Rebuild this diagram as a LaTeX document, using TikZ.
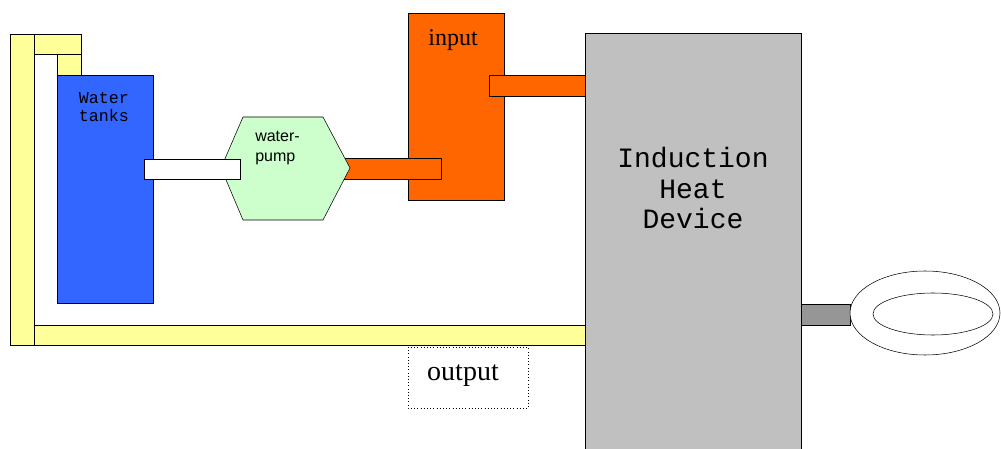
\documentclass[tikz,border=0pt]{standalone}
\usepackage{fontspec}
\setmainfont{Liberation Serif}
\setsansfont{Liberation Sans}
\setmonofont{Liberation Mono}
\usetikzlibrary{positioning}
\definecolor{pipeyellow}{HTML}{FFFF99}
\definecolor{tankblue}{HTML}{3366FF}
\definecolor{hotorange}{HTML}{FF6600}
\definecolor{pumpgreen}{HTML}{CCFFCC}
\definecolor{devicegray}{HTML}{C0C0C0}
\definecolor{plugGray}{HTML}{969696}
\tikzset{
line width=1.4pt,
cold pipe/.style={draw, fill=pipeyellow}, % return line back to the tanks
hot pipe/.style={draw, fill=hotorange},
tank box/.style={draw, fill=tankblue},
pump shape/.style={draw, fill=pumpgreen},
device box/.style={draw, fill=devicegray},
coil ring/.style={draw, fill=white},
tag/.style={inner sep=0pt, align=center},
}

\begin{document}
\begin{tikzpicture}[x=0.75pt, y=-0.75pt]
\useasboundingbox (0,0) rectangle (1001,449);
\clip (0,0) rectangle (1001,449);

% return line
\draw[cold pipe] (10,34) rectangle (34,345);
\draw[cold pipe] (34,34) rectangle (81,54);
\draw[cold pipe] (57,54) rectangle (81,75);
\draw[cold pipe] (34,325) rectangle (585,345);

% tanks and pump
\draw[tank box] (57,75) rectangle (153,303);
\node[tag, font=\ttfamily\fontsize{12.5}{14.2}\selectfont] (tanks) at (104,107) {Water\\tanks};
\draw[hot pipe] (408,13) rectangle (504,200);
\node[tag, font=\rmfamily\fontsize{18}{20}\selectfont] (input) at (453,40) {input};
\draw[hot pipe] (340,158) rectangle (441,179);
\draw[pump shape] (243,117) -- (323,117) -- (350,168) -- (323,220)
  -- (243,220) -- (221,168) -- cycle;
\node[tag, align=left, anchor=north west, font=\sffamily\fontsize{12}{15}\selectfont] (pump) at (255,131) {water-\\pump};
\draw[draw, fill=white] (144,159) rectangle (240,179);
\draw[hot pipe] (489,75) rectangle (585,96);

% induction heater
\draw[device box] (585,33) rectangle (801,460);
\node[tag, font=\ttfamily\fontsize{21}{23}\selectfont] (device) at (693,188) {Induction\\Heat\\Device};
\draw[draw, fill=plugGray] (801,304) rectangle (850,325);
\draw[coil ring] (925,313) ellipse [x radius=75, y radius=42];
\draw (933,314) ellipse [x radius=60, y radius=21];

% outlet label
\draw[dotted] (408,347) rectangle (528,408);
\node[tag, font=\rmfamily\fontsize{21}{23}\selectfont] (output) at (463,376) {output};

\end{tikzpicture}
\end{document}
